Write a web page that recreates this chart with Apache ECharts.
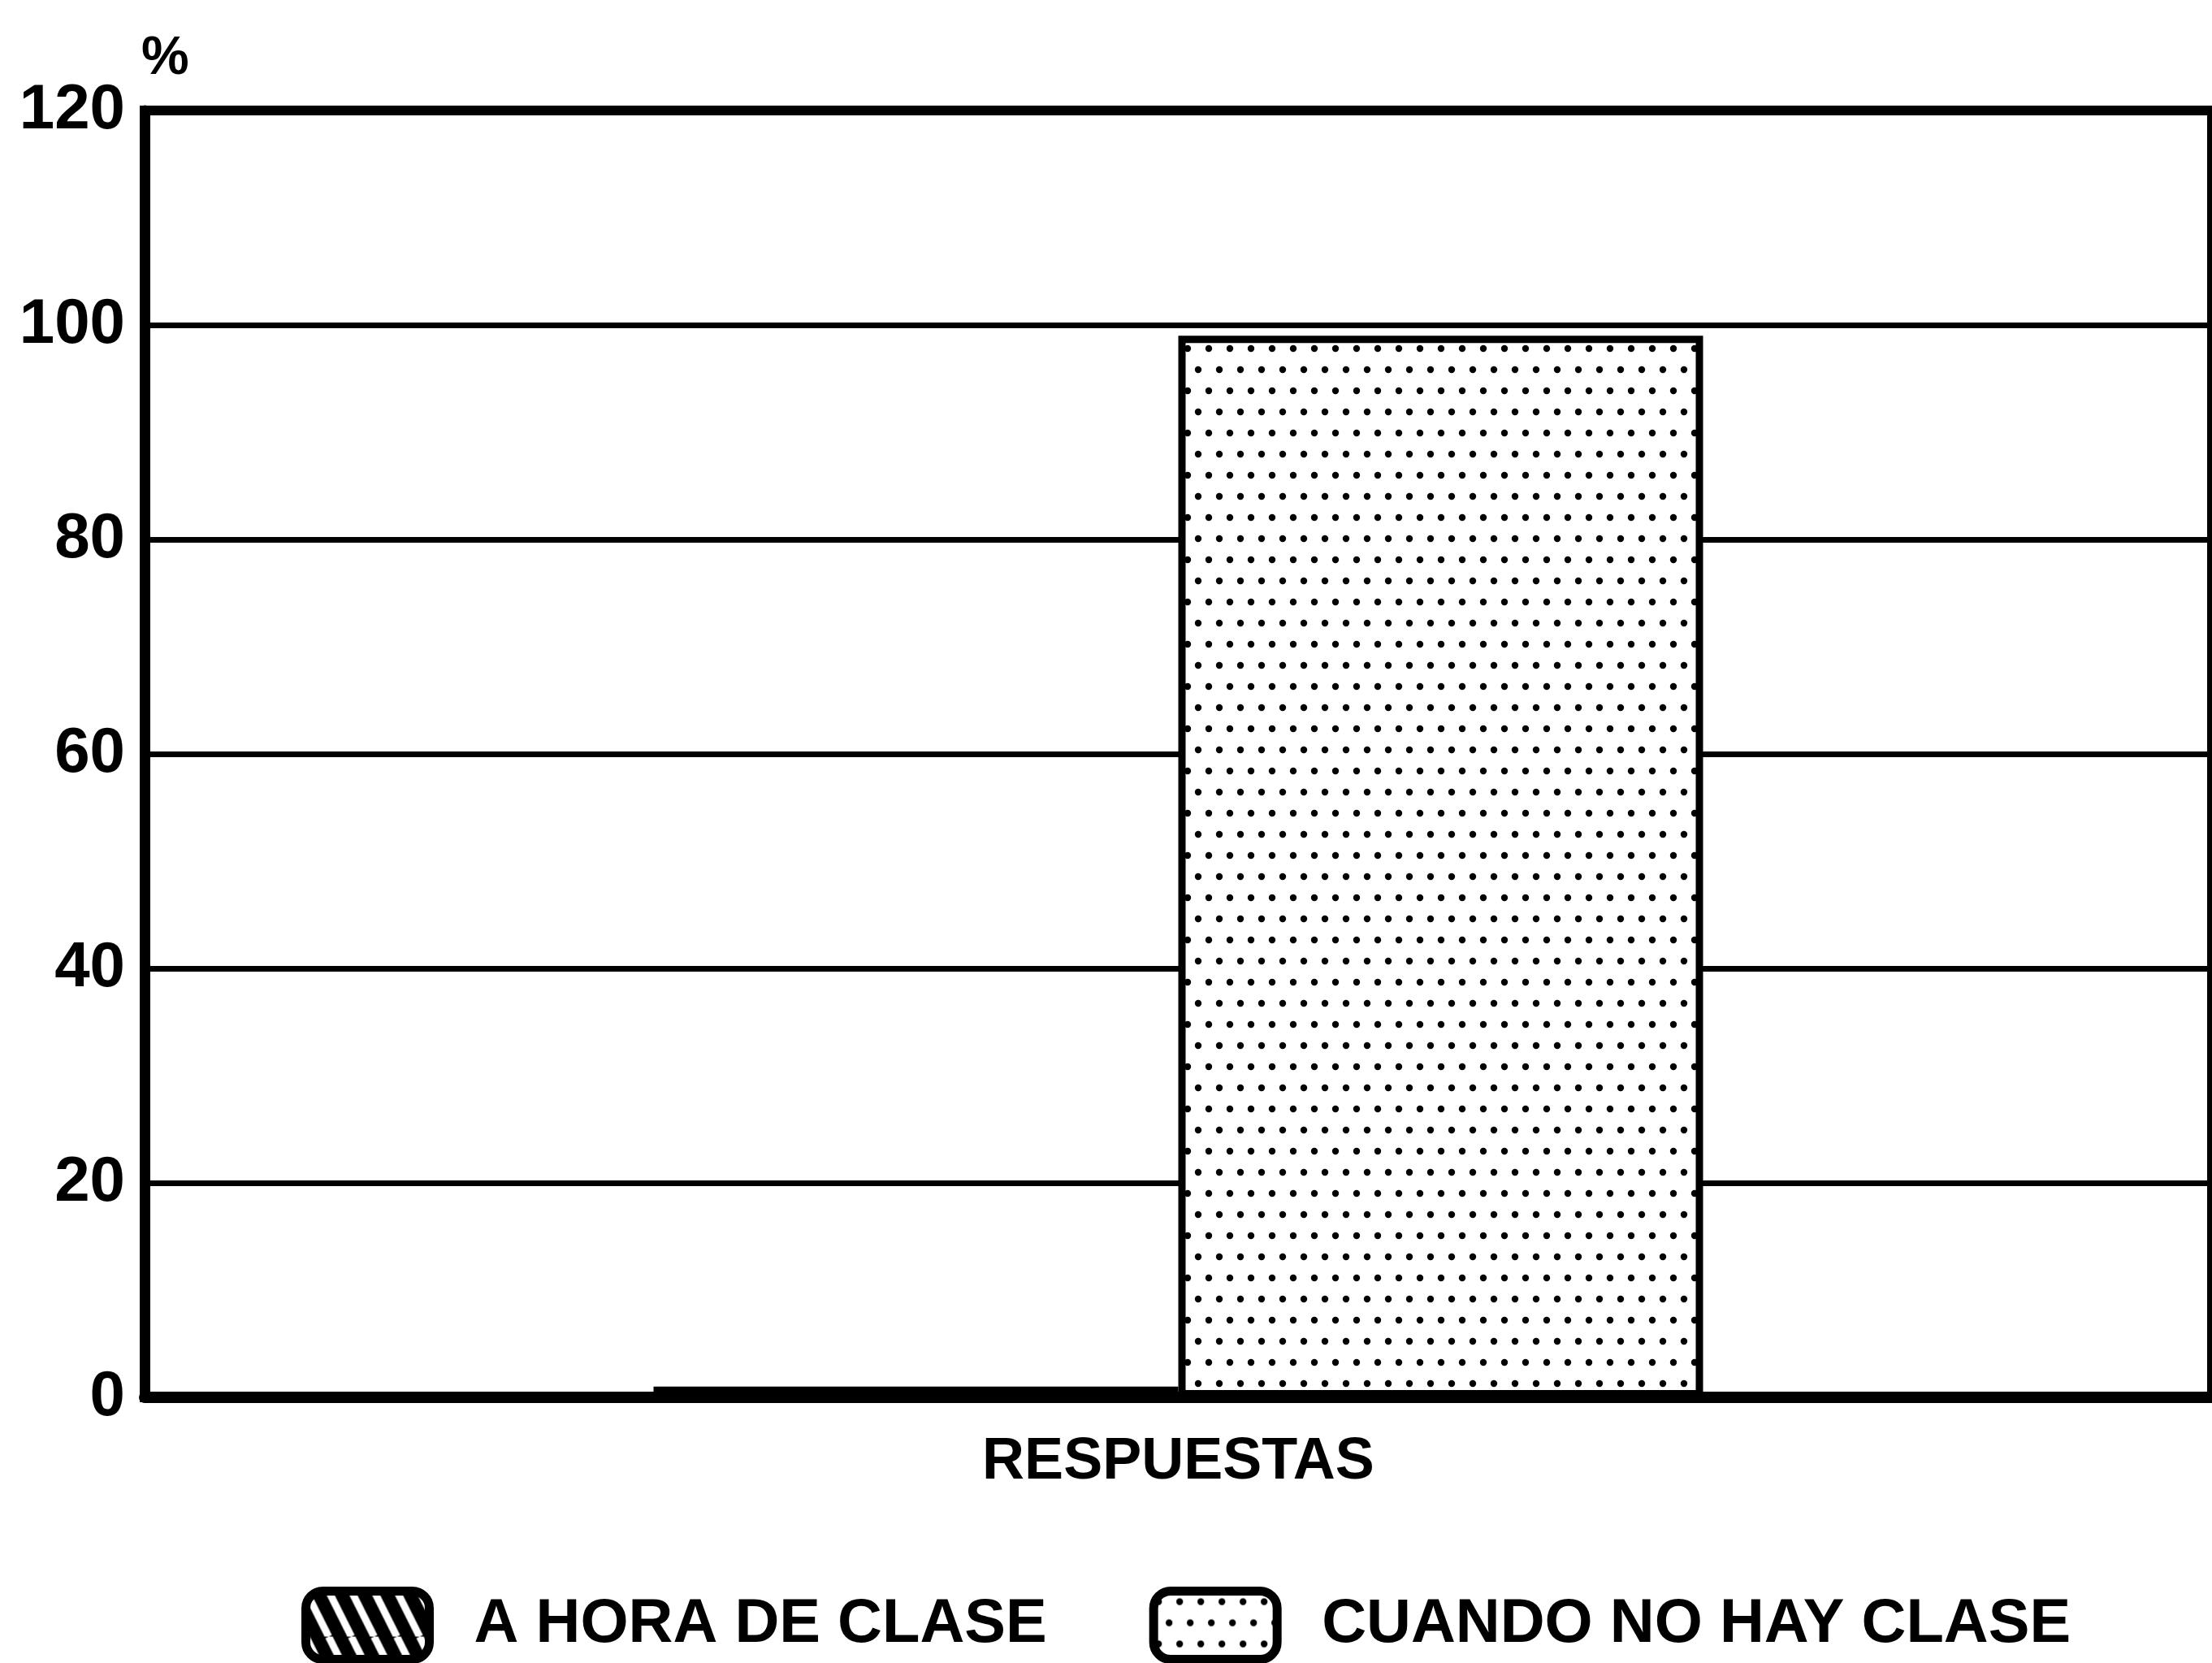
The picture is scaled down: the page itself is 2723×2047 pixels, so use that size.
<!DOCTYPE html>
<html>
<head>
<meta charset="utf-8">
<script src="https://cdn.jsdelivr.net/npm/echarts@6/dist/echarts.min.js"></script>
<style>
  html, body { margin: 0; background: #fff; }
  #chart { width: 2723px; height: 2047px; }
</style>
</head>
<body>
<div id="chart"></div>
<script>
// data
const categories = ['RESPUESTAS'];
const seriesNames = ['A HORA DE CLASE', 'CUANDO NO HAY CLASE'];
const horaDeClase = [1];
const noHayClase = [99];
const yMin = 0, yMax = 120, yStep = 20;

// hatch fill: black with white diagonal stripes
const makeStripes = () => {
  const c = document.createElement('canvas');
  c.width = 28; c.height = 56;
  const ctx = c.getContext('2d');
  ctx.fillStyle = '#000';
  ctx.fillRect(0, 0, 28, 56);
  ctx.strokeStyle = '#fff';
  ctx.lineWidth = 9;
  for (const x0 of [-28, 0, 28]) {
    ctx.beginPath();
    ctx.moveTo(x0, 0);
    ctx.lineTo(x0 + 28, 56);
    ctx.stroke();
  }
  return c;
};

// dotted fill: white with staggered black dots
const makeDots = () => {
  const c = document.createElement('canvas');
  c.width = 26; c.height = 52;
  const ctx = c.getContext('2d');
  ctx.fillStyle = '#fff';
  ctx.fillRect(0, 0, 26, 52);
  ctx.fillStyle = '#000';
  for (const [x, y] of [[6, 13], [19, 39]]) {
    ctx.beginPath();
    ctx.arc(x, y, 4.2, 0, Math.PI * 2);
    ctx.fill();
  }
  return c;
};

const chart = echarts.init(document.getElementById('chart'));

const option = {
  animation: false,
  backgroundColor: '#fff',
  grid: {
    left: 178,
    right: -8,
    top: 136,
    bottom: 327,
    show: true,
    borderColor: '#000',
    borderWidth: 12,
  },
  legend: {
    left: 366,
    top: 1948,
    itemWidth: 152,
    itemHeight: 84,
    itemGap: 126,
    icon: 'roundRect',
    itemStyle: { borderWidth: 11 },
    textStyle: {
      color: '#000',
      fontFamily: 'Liberation Sans, Arial, sans-serif',
      fontWeight: 'bold',
      fontSize: 76,
      padding: [0, 0, 0, 50],
    },
    data: seriesNames,
  },
  xAxis: {
    type: 'category',
    data: categories,
    axisLine: { show: true, lineStyle: { color: '#000', width: 14 } },
    axisTick: { show: false },
    axisLabel: {
      color: '#000',
      margin: 44,
      fontFamily: 'Liberation Sans, Arial, sans-serif',
      fontWeight: 'bold',
      fontSize: 72,
    },
  },
  yAxis: {
    type: 'value',
    min: yMin,
    max: yMax,
    interval: yStep,
    name: '%',
    nameLocation: 'end',
    nameGap: 30,
    nameTextStyle: {
      color: '#000',
      fontFamily: 'Liberation Sans, Arial, sans-serif',
      fontWeight: 'bold',
      fontSize: 66,
      align: 'left',
      padding: [0, 0, 0, -4],
    },
    axisLine: { show: true, lineStyle: { color: '#000', width: 13 } },
    axisTick: { show: false },
    axisLabel: {
      color: '#000',
      margin: 24,
      fontFamily: 'Liberation Sans, Arial, sans-serif',
      fontWeight: 'bold',
      fontSize: 78,
    },
    splitLine: { show: true, lineStyle: { color: '#000', width: 7 } },
  },
  series: [
    {
      name: seriesNames[0],
      type: 'bar',
      data: horaDeClase,
      barWidth: 646,
      barGap: '0%',
      itemStyle: {
        color: { image: makeStripes(), repeat: 'repeat' },
        borderColor: '#000',
        borderWidth: 9,
      },
    },
    {
      name: seriesNames[1],
      type: 'bar',
      data: noHayClase,
      barWidth: 646,
      barGap: '0%',
      itemStyle: {
        color: { image: makeDots(), repeat: 'repeat' },
        borderColor: '#000',
        borderWidth: 9,
      },
    },
  ],
};

chart.setOption(option);
</script>
</body>
</html>
